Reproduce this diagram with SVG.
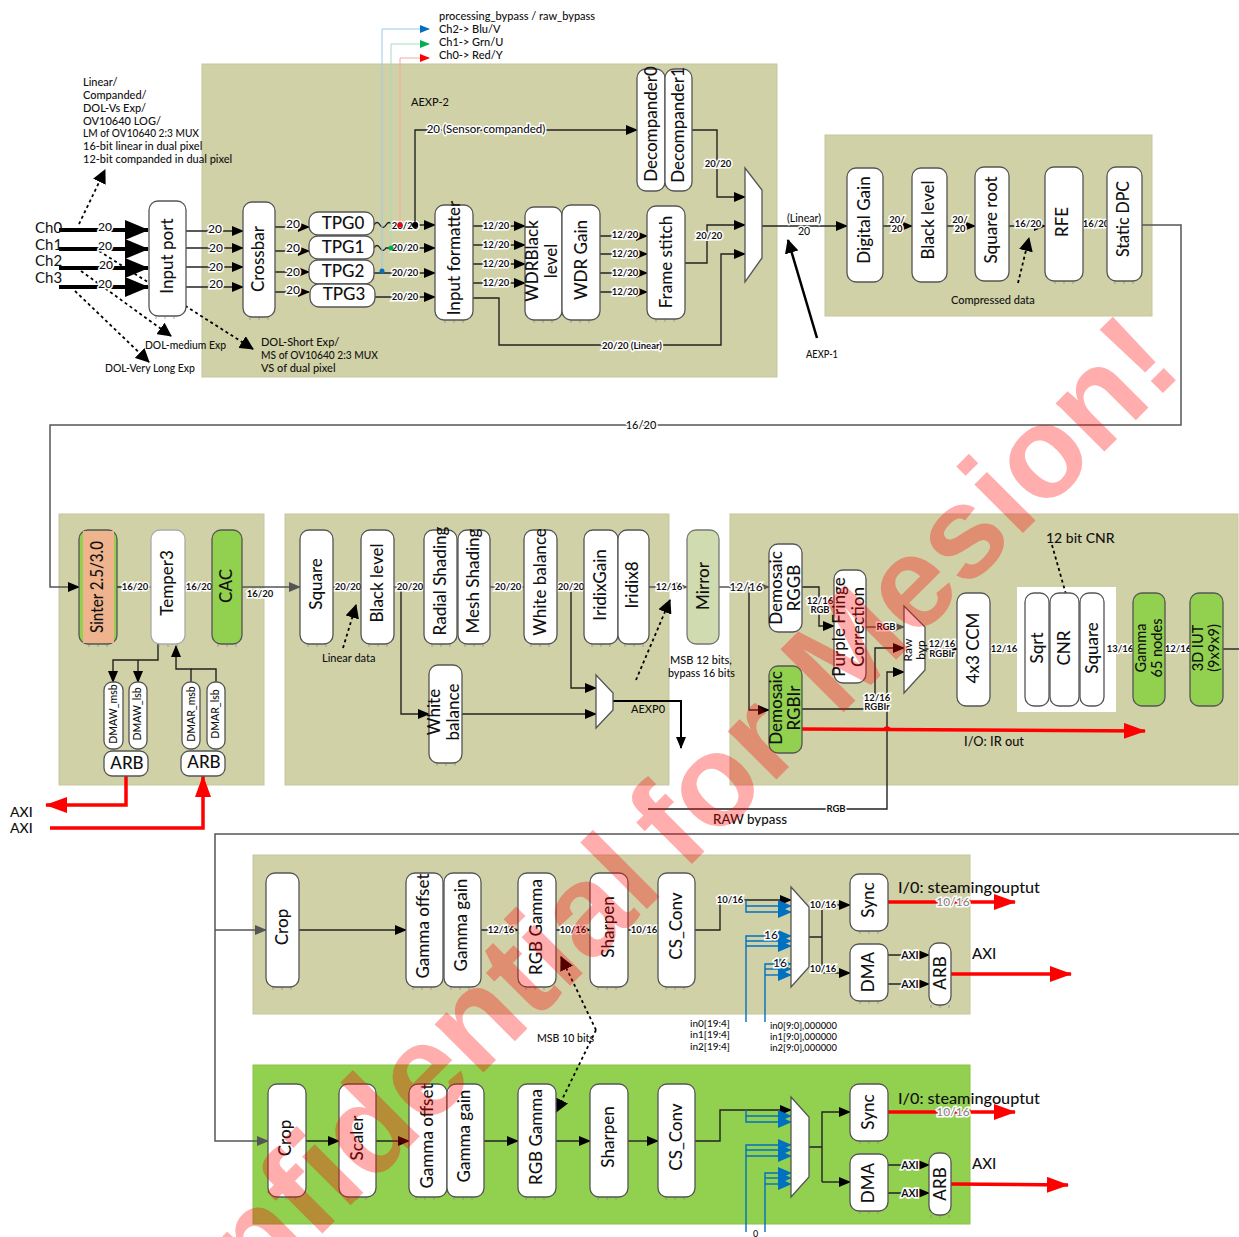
<svg xmlns="http://www.w3.org/2000/svg" width="1239" height="1237" viewBox="0 0 1239 1237">
<style>
text{font-family:Lato,"Noto Sans","Liberation Sans",sans-serif;fill:#111}
.p{fill:#d1d1a7;stroke:#c6c6a0;stroke-width:1}
.pg{fill:#92d050;stroke:#8ac248;stroke-width:1}
.n{fill:#fff;stroke:#555;stroke-width:1.3}
.g{fill:#92d050;stroke:#555;stroke-width:1.3}
.v{font-size:17px;font-weight:500;text-anchor:middle}
.s{font-size:11px;font-weight:500}
.l{font-size:9.5px;font-weight:700;text-anchor:middle;paint-order:stroke;stroke:#fff;stroke-width:3px}
.m{font-size:12px;font-weight:500;text-anchor:middle;paint-order:stroke;stroke:#fff;stroke-width:3px}
.w{fill:none;stroke:#222;stroke-width:1.4}
.w2{fill:none;stroke:#555;stroke-width:1.5}
.t{fill:none;stroke:#000;stroke-width:4}
.d{fill:none;stroke:#000;stroke-width:1.8;stroke-dasharray:3 3}
.r{fill:none;stroke:#f00;stroke-width:3.5}
.b{fill:none;stroke:#0070c0;stroke-width:1.4}
.tk{fill:none;stroke:#888;stroke-width:.7}
.wm{font-family:"Liberation Sans",Arial,sans-serif;font-weight:700;font-size:130px;word-spacing:-12px;fill:#f00;fill-opacity:.32}
</style>
<defs>
<marker id="a" markerUnits="userSpaceOnUse" markerWidth="12" markerHeight="10" refX="11" refY="5" orient="auto"><path d="M0 0L12 5L0 10z" fill="#000"/></marker>
<marker id="ag" markerUnits="userSpaceOnUse" markerWidth="12" markerHeight="10" refX="11" refY="5" orient="auto"><path d="M0 0L12 5L0 10z" fill="#555"/></marker>
<marker id="A" markerUnits="userSpaceOnUse" markerWidth="24" markerHeight="20" refX="23" refY="10" orient="auto"><path d="M0 0L24 10L0 20z" fill="#000"/></marker>
<marker id="ad" markerUnits="userSpaceOnUse" markerWidth="14" markerHeight="14" refX="13" refY="7" orient="auto"><path d="M0 0L14 7L0 14z" fill="#000"/></marker>
<marker id="B" markerUnits="userSpaceOnUse" markerWidth="14" markerHeight="12" refX="13" refY="6" orient="auto"><path d="M0 0L14 6L0 12z" fill="#0070c0"/></marker>
<marker id="R" markerUnits="userSpaceOnUse" markerWidth="22" markerHeight="16" refX="21" refY="8" orient="auto"><path d="M0 0L22 8L0 16z" fill="#f00"/></marker>
<marker id="r1" markerUnits="userSpaceOnUse" markerWidth="10" markerHeight="8" refX="9" refY="4" orient="auto"><path d="M0 0L10 4L0 8z" fill="#f00"/></marker>
<marker id="g1" markerUnits="userSpaceOnUse" markerWidth="10" markerHeight="8" refX="9" refY="4" orient="auto"><path d="M0 0L10 4L0 8z" fill="#00b050"/></marker>
<marker id="b1" markerUnits="userSpaceOnUse" markerWidth="10" markerHeight="8" refX="9" refY="4" orient="auto"><path d="M0 0L10 4L0 8z" fill="#0070c0"/></marker>
<path id="tk" class="tk" d="M0 0v3M9 0v3M18 0v3"/>
</defs>
<rect width="1239" height="1237" fill="#fff"/>
<g id="panels">
<rect class="p" x="202" y="64" width="575" height="313"/>
<rect class="p" x="825" y="135" width="327" height="181"/>
<rect class="p" x="59" y="514" width="205" height="271"/>
<rect class="p" x="285" y="514" width="384" height="271"/>
<rect class="p" x="730" y="514" width="508" height="271"/>
<rect class="p" x="253" y="855" width="717" height="159"/>
<rect class="pg" x="253" y="1065" width="717" height="159"/>
<rect x="1017" y="587" width="99" height="125" fill="#fff"/>
</g>
<g id="connectors">
<path class="t" d="M59 230H148" marker-end="url(#A)"/>
<path class="t" d="M59 249H148" marker-end="url(#A)"/>
<path class="t" d="M59 268H148" marker-end="url(#A)"/>
<path class="t" d="M59 287H148" marker-end="url(#A)"/>
<path class="w" d="M186 231H243" marker-end="url(#a)"/>
<path class="w" d="M186 248H243" marker-end="url(#a)"/>
<path class="w" d="M186 267H243" marker-end="url(#a)"/>
<path class="w" d="M186 287H243" marker-end="url(#a)"/>
<path class="w" d="M275 227H309" marker-end="url(#a)"/>
<path class="w" d="M275 251H309" marker-end="url(#a)"/>
<path class="w" d="M275 272H309" marker-end="url(#a)"/>
<path class="w" d="M275 292H309" marker-end="url(#a)"/>
<path class="w" d="M374 225q3-5 6 0t6 0t6 0H435" marker-end="url(#a)"/>
<path class="w" d="M374 248q3-5 6 0t6 0H435" marker-end="url(#a)"/>
<path class="w" d="M374 273H435" marker-end="url(#a)"/>
<path class="w" d="M375 297H435" marker-end="url(#a)"/>
<path class="w" d="M473 226H525" marker-end="url(#a)"/>
<path class="w" d="M473 245H525" marker-end="url(#a)"/>
<path class="w" d="M473 264H525" marker-end="url(#a)"/>
<path class="w" d="M473 283H525" marker-end="url(#a)"/>
<path class="w" d="M600 236H647" marker-end="url(#a)"/>
<path class="w" d="M600 254H647" marker-end="url(#a)"/>
<path class="w" d="M600 273H647" marker-end="url(#a)"/>
<path class="w" d="M600 292H647" marker-end="url(#a)"/>
<path class="w" d="M473 298H499V345H721V254H745" marker-end="url(#a)"/>
<path class="w" d="M685 263H707V225H745" marker-end="url(#a)"/>
<path class="w" d="M692 130H717V197H745" marker-end="url(#a)"/>
<path class="w" d="M762 226H847" marker-end="url(#a)"/>
<path class="w" d="M883 226H912" marker-end="url(#a)"/>
<path class="w" d="M947 226H975" marker-end="url(#a)"/>
<path class="w" d="M1009 226H1045" marker-end="url(#a)"/>
<path class="w" d="M1083 226H1107"/>
<path class="w2" d="M1142 225H1181V425H50V587H79" marker-end="url(#a)"/>
<path class="w" d="M117 587H151" marker-end="url(#ag)"/>
<path class="w" d="M185 587H212" marker-end="url(#ag)"/>
<path class="w2" d="M242 587H300" marker-end="url(#ag)"/>
<path class="w2" d="M333 587H361" marker-end="url(#ag)"/>
<path class="w2" d="M394 587H424" marker-end="url(#ag)"/>
<path class="w2" d="M490 587H524" marker-end="url(#ag)"/>
<path class="w2" d="M557 587H584" marker-end="url(#ag)"/>
<path class="w2" d="M649 587H687" marker-end="url(#ag)"/>
<path class="w2" d="M719 587H769" marker-end="url(#ag)"/>
<path class="w" d="M158 644V660H113V682" marker-end="url(#a)"/>
<path class="w" d="M138 660V682" marker-end="url(#a)"/>
<path class="w" d="M191 682V669H176V646" marker-end="url(#a)"/>
<path class="w" d="M216 682V669H191"/>
<path class="r" d="M126 776V805H46" marker-end="url(#R)"/>
<path class="r" d="M50 828H203V776" marker-end="url(#R)"/>
<path class="w" d="M401 587V714H429" marker-end="url(#a)"/>
<path class="w" d="M462 714H596" marker-end="url(#a)"/>
<path class="w" d="M571 587V688H596" marker-end="url(#a)"/>
<path d="M613 701H681V748" fill="none" stroke="#000" stroke-width="2" marker-end="url(#a)"/>
<path class="w" d="M749 587V710H769" marker-end="url(#a)"/>
<path class="w" d="M802 587H819V626H834" marker-end="url(#a)"/>
<path class="w2" d="M866 627H904" marker-end="url(#ag)"/>
<path class="w" d="M802 709H875V648H904" marker-end="url(#a)"/>
<path class="w" d="M648 809H887V672H904" marker-end="url(#a)"/>
<path class="w" d="M925 649H957" marker-end="url(#a)"/>
<path class="w" d="M990 649H1017"/>
<path class="w" d="M1116 649H1133"/>
<path class="w" d="M1165 649H1190"/>
<path class="w" d="M1223 649H1239"/>
<path class="r" d="M802 729L1145 731" marker-end="url(#R)"/>
<path d="M883 729q4-5 8 0" fill="#f00" stroke="#f00"/>
<path class="d" d="M79 224L105 170" marker-end="url(#ad)"/>
<path class="d" d="M99 251L253 349" marker-end="url(#ad)"/>
<path class="d" d="M81 271L171 336" marker-end="url(#ad)"/>
<path class="d" d="M75 291L149 362" marker-end="url(#ad)"/>
<path d="M817 338L788 240" fill="none" stroke="#000" stroke-width="2.5" marker-end="url(#ad)"/>
<path class="d" d="M1018 283L1029 238" marker-end="url(#ad)"/>
<path class="d" d="M343 648L356 605" marker-end="url(#ad)"/>
<path class="d" d="M636 680L670 600" marker-end="url(#ad)"/>
<path class="d" d="M1052 545L1071 612" marker-end="url(#ad)"/>
<path class="d" d="M596 1030L561 957" marker-end="url(#ad)"/>
<path class="d" d="M596 1030L556 1112" marker-end="url(#ad)"/>
<path class="w2" d="M1239 834H215V1141H268" marker-end="url(#ag)"/>
<path class="w2" d="M215 930H266" marker-end="url(#ag)"/>
<path class="w" d="M299 930H406" marker-end="url(#a)"/>
<path class="w" d="M481 930H518" marker-end="url(#a)"/>
<path class="w" d="M556 930H590" marker-end="url(#a)"/>
<path class="w" d="M628 930H658" marker-end="url(#a)"/>
<path class="w" d="M695 930H720V900H791" marker-end="url(#a)"/>
<path class="b" d="M746 900V912H791" marker-end="url(#B)"/>
<path class="b" d="M746 906H791" marker-end="url(#B)"/>
<path class="b" d="M746 1022V936H791" marker-end="url(#B)"/>
<path class="b" d="M746 941H791" marker-end="url(#B)"/>
<path class="b" d="M746 946H791" marker-end="url(#B)"/>
<path class="b" d="M765 1022V964H791" marker-end="url(#B)"/>
<path class="b" d="M765 969H791" marker-end="url(#B)"/>
<path class="b" d="M765 975H791" marker-end="url(#B)"/>
<path class="w" d="M809 937H822M822 973V905H850" marker-end="url(#a)"/>
<path class="w" d="M822 973H850" marker-end="url(#a)"/>
<path class="r" d="M886 902H1015" marker-end="url(#R)"/>
<path class="w" d="M888 955H929" marker-end="url(#a)"/>
<path class="w" d="M888 984H929" marker-end="url(#a)"/>
<path class="r" d="M951 974H1071" marker-end="url(#R)"/>
<path class="w" d="M306 1141H339" marker-end="url(#a)"/>
<path class="w" d="M376 1141H409" marker-end="url(#a)"/>
<path class="w" d="M484 1141H518" marker-end="url(#a)"/>
<path class="w" d="M556 1141H590" marker-end="url(#a)"/>
<path class="w" d="M628 1141H658" marker-end="url(#a)"/>
<path class="w" d="M695 1141H720V1110H791" marker-end="url(#a)"/>
<path class="b" d="M746 1110V1122H791" marker-end="url(#B)"/>
<path class="b" d="M746 1116H791" marker-end="url(#B)"/>
<path class="b" d="M746 1232V1145H791" marker-end="url(#B)"/>
<path class="b" d="M746 1150H791" marker-end="url(#B)"/>
<path class="b" d="M746 1156H791" marker-end="url(#B)"/>
<path class="b" d="M765 1232V1173H791" marker-end="url(#B)"/>
<path class="b" d="M765 1178H791" marker-end="url(#B)"/>
<path class="b" d="M765 1184H791" marker-end="url(#B)"/>
<path class="w" d="M809 1147H822M822 1182V1112H850" marker-end="url(#a)"/>
<path class="w" d="M822 1182H850" marker-end="url(#a)"/>
<path class="r" d="M886 1112H1015" marker-end="url(#R)"/>
<path class="w" d="M888 1165H929" marker-end="url(#a)"/>
<path class="w" d="M888 1193H929" marker-end="url(#a)"/>
<path class="r" d="M951 1184L1068 1185" marker-end="url(#R)"/>
</g>
<g id="connector-labels">
<text class="m" x="105" y="231">20</text><text class="m" x="105" y="250">20</text><text class="m" x="106" y="269">20</text><text class="m" x="105" y="288">20</text>
<text class="m" x="215" y="233">20</text><text class="m" x="216" y="252">20</text><text class="m" x="216" y="271">20</text><text class="m" x="216" y="288">20</text>
<text class="m" x="293" y="228">20</text><text class="m" x="293" y="252">20</text><text class="m" x="293" y="276">20</text><text class="m" x="293" y="294">20</text>
<text class="l" x="405" y="229">20/20</text><text class="l" x="405" y="251">20/20</text><text class="l" x="405" y="276">20/20</text><text class="l" x="405" y="300">20/20</text>
<text class="l" x="496" y="229">12/20</text><text class="l" x="496" y="248">12/20</text><text class="l" x="496" y="267">12/20</text><text class="l" x="496" y="286">12/20</text>
<text class="l" x="625" y="238">12/20</text><text class="l" x="625" y="257">12/20</text><text class="l" x="625" y="276">12/20</text><text class="l" x="625" y="295">12/20</text>
<text class="l" x="632" y="349">20/20 (Linear)</text>
<text class="l" x="718" y="167">20/20</text><text class="l" x="709" y="239">20/20</text>
<text class="m" x="804" y="222" style="font-size:10.5px">(Linear)</text><text class="m" x="804" y="235" style="font-size:10.5px">20</text>
<text class="l" x="897" y="223">20/</text><text class="l" x="897" y="232">20</text>
<text class="l" x="960" y="223">20/</text><text class="l" x="960" y="232">20</text>
<text class="l" x="1028" y="227">16/20</text><text class="l" x="1096" y="227">16/20</text>
<text class="m" x="641" y="429" style="font-size:11px">16/20</text>
<text class="l" x="135" y="590">16/20</text><text class="l" x="199" y="590">16/20</text><text class="l" x="260" y="597">16/20</text>
<text class="l" x="348" y="590">20/20</text><text class="l" x="410" y="590">20/20</text><text class="l" x="508" y="590">20/20</text><text class="l" x="571" y="590">20/20</text><text class="l" x="669" y="590">12/16</text>
<text class="m" x="746" y="591">12/16</text>
<text class="l" x="820" y="604">12/16</text><text class="l" x="820" y="613">RGB</text>
<text class="l" x="886" y="630">RGB</text>
<text class="l" x="877" y="701">12/16</text><text class="l" x="877" y="710">RGBIr</text>
<text class="l" x="942" y="647">12/16</text><text class="l" x="942" y="657">RGBIr</text>
<text class="l" x="1004" y="652">12/16</text><text class="l" x="1120" y="652">13/16</text><text class="l" x="1178" y="652">12/16</text>
<text class="l" x="836" y="812">RGB</text>
<text class="l" x="501" y="933">12/16</text><text class="l" x="573" y="933">10/16</text><text class="l" x="644" y="933">10/16</text>
<text class="l" x="730" y="903">10/16</text><text class="l" x="823" y="908">10/16</text><text class="l" x="823" y="972">10/16</text>
<text class="m" x="771" y="939">16</text><text class="m" x="780" y="967">16</text>
<text class="m" x="953" y="906" style="fill:#888">10/16</text><text class="m" x="953" y="1116" style="fill:#888">10/16</text>
<text class="l" x="910" y="959" style="font-size:10.5px">AXI</text><text class="l" x="910" y="988" style="font-size:10.5px">AXI</text>
<text class="l" x="910" y="1169" style="font-size:10.5px">AXI</text><text class="l" x="910" y="1197" style="font-size:10.5px">AXI</text>
</g>
<g id="bypass-taps">
<path class="w" d="M415 225V130H637" marker-end="url(#a)"/>
<text class="m" x="486" y="133" style="font-size:11.5px">20 (Sensor companded)</text>
<path d="M400 225V58H429" fill="none" stroke="#f4a9a0" stroke-width="1" marker-end="url(#r1)"/>
<path d="M391 248V44H429" fill="none" stroke="#a5dcb8" stroke-width="1" marker-end="url(#g1)"/>
<path d="M382 272V29H429" fill="none" stroke="#9cc8e8" stroke-width="1" marker-end="url(#b1)"/>
<circle cx="400" cy="225" r="2.5" fill="#f00"/>
<circle cx="391" cy="248" r="2.5" fill="#00b050"/>
<circle cx="382" cy="271" r="2.5" fill="#0070c0"/>
<circle cx="415" cy="225" r="3" fill="#000"/>
</g>
<g id="notes">
<text class="s" x="439" y="20">processing_bypass / raw_bypass</text>
<text class="s" x="439" y="33">Ch2-&gt; Blu/V</text>
<text class="s" x="439" y="46">Ch1-&gt; Grn/U</text>
<text class="s" x="439" y="59">Ch0-&gt; Red/Y</text>
<text class="s" x="411" y="106">AEXP-2</text>
<text class="s" x="83" y="86">Linear/</text>
<text class="s" x="83" y="99">Companded/</text>
<text class="s" x="83" y="112">DOL-Vs Exp/</text>
<text class="s" x="83" y="125">OV10640 LOG/</text>
<text class="s" x="83" y="137" textLength="116" lengthAdjust="spacingAndGlyphs">LM of OV10640 2:3 MUX</text>
<text class="s" x="83" y="150">16-bit linear in dual pixel</text>
<text class="s" x="83" y="163">12-bit companded in dual pixel</text>
<text x="35" y="233" style="font-size:15px">Ch0</text><text x="35" y="250" style="font-size:15px">Ch1</text><text x="35" y="266" style="font-size:15px">Ch2</text><text x="35" y="283" style="font-size:15px">Ch3</text>
<text class="s" x="145" y="349" textLength="81" lengthAdjust="spacingAndGlyphs">DOL-medium Exp</text>
<text class="s" x="105" y="372" textLength="90" lengthAdjust="spacingAndGlyphs">DOL-Very Long Exp</text>
<text class="s" x="261" y="346">DOL-Short Exp/</text>
<text class="s" x="261" y="359" textLength="117" lengthAdjust="spacingAndGlyphs">MS of OV10640 2:3 MUX</text>
<text class="s" x="261" y="372">VS of dual pixel</text>
<text class="s" x="806" y="358" textLength="32" lengthAdjust="spacingAndGlyphs">AEXP-1</text>
<text class="s" x="951" y="304">Compressed data</text>
<text class="s" x="322" y="662">Linear data</text>
<text class="s" x="631" y="713">AEXP0</text>
<text class="s" x="670" y="664">MSB 12 bits,</text>
<text class="s" x="668" y="677" textLength="67" lengthAdjust="spacingAndGlyphs">bypass 16 bits</text>
<text x="1046" y="543" style="font-size:14px;font-weight:500">12 bit CNR</text>
<text x="964" y="746" style="font-size:14px;font-weight:500" textLength="60" lengthAdjust="spacingAndGlyphs">I/O: IR out</text>
<text x="713" y="824" style="font-size:14px;font-weight:500" textLength="74" lengthAdjust="spacingAndGlyphs">RAW bypass</text>
<text x="10" y="817" style="font-size:14px;font-weight:500">AXI</text><text x="10" y="833" style="font-size:14px;font-weight:500">AXI</text>
<text class="s" x="537" y="1042" textLength="57" lengthAdjust="spacingAndGlyphs">MSB 10 bits</text>
<text class="s" x="690" y="1027" style="font-size:10px">in0[19:4]</text><text class="s" x="690" y="1038" style="font-size:10px">in1[19:4]</text><text class="s" x="690" y="1050" style="font-size:10px">in2[19:4]</text>
<text class="s" x="770" y="1029" style="font-size:10px" textLength="67" lengthAdjust="spacingAndGlyphs">in0[9:0],000000</text><text class="s" x="770" y="1040" style="font-size:10px" textLength="67" lengthAdjust="spacingAndGlyphs">in1[9:0],000000</text><text class="s" x="770" y="1051" style="font-size:10px" textLength="67" lengthAdjust="spacingAndGlyphs">in2[9:0],000000</text>
<text x="898" y="893" style="font-size:16px;font-weight:500" textLength="142" lengthAdjust="spacingAndGlyphs">I/0: steamingouptut</text>
<text x="898" y="1104" style="font-size:16px;font-weight:500" textLength="142" lengthAdjust="spacingAndGlyphs">I/0: steamingouptut</text>
<text x="972" y="959" style="font-size:15px;font-weight:500">AXI</text><text x="972" y="1169" style="font-size:15px;font-weight:500">AXI</text>
<text class="s" x="753" y="1237" style="font-size:9px">0</text>
</g>
<g id="muxes">
<polygon class="n" points="745,168 762,190 762,258 745,282"/>
<polygon class="n" points="596,675 613,693 613,710 596,728"/>
<polygon class="n" points="904,606 925,627 925,670 904,693"/>
<polygon class="n" points="791,887 809,907 809,967 791,987"/>
<polygon class="n" points="791,1097 809,1117 809,1177 791,1197"/>
<text class="v" style="font-size:12px" transform="translate(919,650) rotate(-90)" x="0" y="-7">Raw</text>
<text class="v" style="font-size:12px" transform="translate(919,650) rotate(-90)" x="0" y="6">byp</text>
</g>
<g id="ticks">
<use href="#tk" x="156" y="316"/><use href="#tk" x="250" y="317"/><use href="#tk" x="445" y="320"/><use href="#tk" x="534" y="320"/><use href="#tk" x="571" y="320"/><use href="#tk" x="656" y="319"/>
<use href="#tk" x="1055" y="281"/><use href="#tk" x="1115" y="281"/>
<use href="#tk" x="89" y="644"/><use href="#tk" x="159" y="644"/><use href="#tk" x="218" y="644"/><use href="#tk" x="308" y="644"/><use href="#tk" x="369" y="644"/><use href="#tk" x="432" y="644"/><use href="#tk" x="465" y="644"/><use href="#tk" x="531" y="644"/><use href="#tk" x="592" y="644"/><use href="#tk" x="625" y="644"/><use href="#tk" x="437" y="763"/>
<use href="#tk" x="273" y="987"/><use href="#tk" x="413" y="987"/><use href="#tk" x="451" y="987"/><use href="#tk" x="526" y="987"/><use href="#tk" x="598" y="987"/><use href="#tk" x="666" y="987"/><use href="#tk" x="860" y="931"/><use href="#tk" x="860" y="1001"/><use href="#tk" x="931" y="1005"/>
<use href="#tk" x="277" y="1197"/><use href="#tk" x="348" y="1197"/><use href="#tk" x="416" y="1197"/><use href="#tk" x="454" y="1197"/><use href="#tk" x="526" y="1197"/><use href="#tk" x="598" y="1197"/><use href="#tk" x="666" y="1197"/><use href="#tk" x="860" y="1141"/><use href="#tk" x="860" y="1211"/><use href="#tk" x="931" y="1215"/>
</g>
<g id="input-port"><rect class="n" x="149" y="201" width="37" height="115" rx="9"/><text class="v" transform="translate(173,256) rotate(-90)">Input port</text></g>
<g id="crossbar"><rect class="n" x="243" y="202" width="32" height="115" rx="9"/><text class="v" transform="translate(264,259) rotate(-90)">Crossbar</text></g>
<g id="tpg0"><rect class="n" x="309" y="212" width="65" height="23" rx="9"/><text class="v" x="343" y="229">TPG0</text></g>
<g id="tpg1"><rect class="n" x="309" y="236" width="65" height="23" rx="9"/><text class="v" x="343" y="253">TPG1</text></g>
<g id="tpg2"><rect class="n" x="309" y="260" width="65" height="24" rx="9"/><text class="v" x="343" y="277">TPG2</text></g>
<g id="tpg3"><rect class="n" x="310" y="284" width="65" height="23" rx="9"/><text class="v" x="344" y="300">TPG3</text></g>
<g id="input-formatter"><rect class="n" x="435" y="205" width="38" height="115" rx="9"/><text class="v" transform="translate(460,258) rotate(-90)">Input formatter</text></g>
<g id="wdr-black"><rect class="n" x="525" y="207" width="37" height="113" rx="9"/><text class="v" transform="translate(538,261) rotate(-90)">WDRBlack</text><text class="v" transform="translate(557,261) rotate(-90)">level</text></g>
<g id="wdr-gain"><rect class="n" x="562" y="205" width="38" height="115" rx="9"/><text class="v" transform="translate(587,260) rotate(-90)">WDR Gain</text></g>
<g id="frame-stitch"><rect class="n" x="647" y="206" width="38" height="113" rx="9"/><text class="v" transform="translate(672,262) rotate(-90)">Frame stitch</text></g>
<g id="decompander0"><rect class="n" x="637" y="69" width="28" height="122" rx="9"/><text class="v" transform="translate(657,124) rotate(-90)">Decompander0</text></g>
<g id="decompander1"><rect class="n" x="665" y="69" width="27" height="122" rx="9"/><text class="v" transform="translate(684,125) rotate(-90)">Decompander1</text></g>
<g id="digital-gain"><rect class="n" x="847" y="168" width="36" height="114" rx="9"/><text class="v" transform="translate(870,220) rotate(-90)">Digital Gain</text></g>
<g id="black-level"><rect class="n" x="912" y="168" width="35" height="114" rx="9"/><text class="v" transform="translate(934,220) rotate(-90)">Black level</text></g>
<g id="square-root"><rect class="n" x="975" y="167" width="34" height="114" rx="9"/><text class="v" transform="translate(997,220) rotate(-90)">Square root</text></g>
<g id="rfe"><rect class="n" x="1045" y="167" width="38" height="114" rx="9"/><text class="v" transform="translate(1068,222) rotate(-90)">RFE</text></g>
<g id="static-dpc"><rect class="n" x="1107" y="167" width="35" height="114" rx="9"/><text class="v" transform="translate(1129,219) rotate(-90)" textLength="76" lengthAdjust="spacingAndGlyphs">Static DPC</text></g>
<g id="sinter"><rect class="g" x="79" y="530" width="38" height="114" rx="9"/><rect x="83" y="531" width="31" height="112" fill="#efb48d"/><text class="v" transform="translate(103,587) rotate(-90)" textLength="92" lengthAdjust="spacingAndGlyphs">Sinter 2.5/3.0</text></g>
<g id="temper3"><rect class="n" x="151" y="530" width="34" height="114" rx="9" style="stroke:#aaa"/><text class="v" transform="translate(173,583) rotate(-90)">Temper3</text></g>
<g id="cac"><rect class="g" x="212" y="530" width="30" height="114" rx="9"/><text class="v" transform="translate(232,586) rotate(-90)">CAC</text></g>
<g id="dmaw-msb"><rect class="n" x="104" y="682" width="19" height="67" rx="8"/><text class="v" style="font-size:10.5px" transform="translate(117,714) rotate(-90)">DMAW_msb</text></g>
<g id="dmaw-lsb"><rect class="n" x="129" y="682" width="18" height="67" rx="8"/><text class="v" style="font-size:10.5px" transform="translate(141,714) rotate(-90)">DMAW_lsb</text></g>
<g id="dmar-msb"><rect class="n" x="182" y="682" width="18" height="67" rx="8"/><text class="v" style="font-size:10.5px" transform="translate(195,714) rotate(-90)">DMAR_msb</text></g>
<g id="dmar-lsb"><rect class="n" x="207" y="682" width="18" height="67" rx="8"/><text class="v" style="font-size:10.5px" transform="translate(219,714) rotate(-90)">DMAR_lsb</text></g>
<g id="arb1"><rect class="n" x="104" y="751" width="44" height="25" rx="8"/><text class="v" x="127" y="769">ARB</text></g>
<g id="arb2"><rect class="n" x="181" y="751" width="44" height="25" rx="8"/><text class="v" x="204" y="768">ARB</text></g>
<g id="square"><rect class="n" x="300" y="530" width="33" height="114" rx="9"/><text class="v" transform="translate(322,584) rotate(-90)">Square</text></g>
<g id="black-level2"><rect class="n" x="361" y="530" width="33" height="114" rx="9"/><text class="v" transform="translate(383,583) rotate(-90)">Black level</text></g>
<g id="radial-shading"><rect class="n" x="424" y="530" width="33" height="114" rx="9"/><text class="v" transform="translate(446,581) rotate(-90)">Radial Shading</text></g>
<g id="mesh-shading"><rect class="n" x="458" y="530" width="32" height="114" rx="9"/><text class="v" transform="translate(479,581) rotate(-90)">Mesh Shading</text></g>
<g id="white-balance"><rect class="n" x="524" y="530" width="33" height="114" rx="9"/><text class="v" transform="translate(546,582) rotate(-90)">White balance</text></g>
<g id="iridix-gain"><rect class="n" x="584" y="530" width="34" height="114" rx="9"/><text class="v" transform="translate(606,585) rotate(-90)">IridixGain</text></g>
<g id="iridix8"><rect class="n" x="618" y="530" width="31" height="114" rx="9"/><text class="v" transform="translate(638,585) rotate(-90)">Iridix8</text></g>
<g id="white-balance2"><rect class="n" x="429" y="665" width="33" height="98" rx="9"/><text class="v" transform="translate(440,712) rotate(-90)">White</text><text class="v" transform="translate(459,712) rotate(-90)">balance</text></g>
<g id="mirror"><rect x="687" y="530" width="32" height="114" rx="9" fill="#d0dcb0" stroke="#777" stroke-width="1.3"/><text class="v" transform="translate(709,586) rotate(-90)">Mirror</text></g>
<g id="demosaic-rggb"><rect class="n" x="769" y="544" width="33" height="88" rx="9"/><text class="v" transform="translate(782,588) rotate(-90)">Demosaic</text><text class="v" transform="translate(800,588) rotate(-90)">RGGB</text></g>
<g id="purple-fringe"><rect class="n" x="834" y="570" width="32" height="113" rx="9"/><text class="v" transform="translate(845,627) rotate(-90)">Purple Fringe</text><text class="v" transform="translate(864,627) rotate(-90)">Correction</text></g>
<g id="demosaic-rgbir"><rect class="g" x="769" y="666" width="33" height="87" rx="9"/><text class="v" transform="translate(782,708) rotate(-90)">Demosaic</text><text class="v" transform="translate(800,708) rotate(-90)">RGBIr</text></g>
<g id="ccm"><rect class="n" x="957" y="593" width="33" height="113" rx="9"/><text class="v" transform="translate(979,648) rotate(-90)">4x3 CCM</text></g>
<g id="sqrt"><rect class="n" x="1025" y="593" width="24" height="113" rx="9"/><text class="v" transform="translate(1043,648) rotate(-90)">Sqrt</text></g>
<g id="cnr"><rect class="n" x="1050" y="593" width="29" height="113" rx="9"/><text class="v" transform="translate(1070,648) rotate(-90)">CNR</text></g>
<g id="square2"><rect class="n" x="1080" y="593" width="24" height="113" rx="9"/><text class="v" transform="translate(1098,648) rotate(-90)">Square</text></g>
<g id="gamma65"><rect class="g" x="1133" y="593" width="32" height="113" rx="9"/><text class="v" style="font-size:14.5px" transform="translate(1146,648) rotate(-90)">Gamma</text><text class="v" style="font-size:14.5px" transform="translate(1162,648) rotate(-90)">65 nodes</text></g>
<g id="lut"><rect class="g" x="1190" y="593" width="33" height="113" rx="9"/><text class="v" style="font-size:14.5px" transform="translate(1203,648) rotate(-90)">3D IUT</text><text class="v" style="font-size:14.5px" transform="translate(1219,648) rotate(-90)">(9x9x9)</text></g>
<g id="crop1"><rect class="n" x="266" y="873" width="33" height="114" rx="9"/><text class="v" transform="translate(288,927) rotate(-90)">Crop</text></g>
<g id="gamma-offset1"><rect class="n" x="406" y="873" width="37" height="114" rx="9"/><text class="v" transform="translate(429,926) rotate(-90)">Gamma offset</text></g>
<g id="gamma-gain1"><rect class="n" x="444" y="873" width="37" height="114" rx="9"/><text class="v" transform="translate(467,925) rotate(-90)">Gamma gain</text></g>
<g id="rgb-gamma1"><rect class="n" x="518" y="873" width="38" height="114" rx="9"/><text class="v" transform="translate(542,927) rotate(-90)">RGB Gamma</text></g>
<g id="sharpen1"><rect class="n" x="590" y="873" width="38" height="114" rx="9"/><text class="v" transform="translate(614,927) rotate(-90)">Sharpen</text></g>
<g id="csconv1"><rect class="n" x="658" y="873" width="37" height="114" rx="9"/><text class="v" transform="translate(682,926) rotate(-90)">CS_Conv</text></g>
<g id="sync1"><rect class="n" x="850" y="874" width="38" height="57" rx="9"/><text class="v" transform="translate(874,900) rotate(-90)">Sync</text></g>
<g id="dma1"><rect class="n" x="850" y="944" width="38" height="57" rx="9"/><text class="v" transform="translate(874,972) rotate(-90)">DMA</text></g>
<g id="arb3"><rect class="n" x="929" y="943" width="22" height="62" rx="9"/><text class="v" transform="translate(946,973) rotate(-90)">ARB</text></g>
<g id="crop2"><rect class="n" x="268" y="1084" width="38" height="113" rx="9"/><text class="v" transform="translate(291,1138) rotate(-90)">Crop</text></g>
<g id="scaler"><rect class="n" x="339" y="1084" width="37" height="113" rx="9"/><text class="v" transform="translate(363,1138) rotate(-90)">Scaler</text></g>
<g id="gamma-offset2"><rect class="n" x="409" y="1084" width="38" height="113" rx="9"/><text class="v" transform="translate(433,1136) rotate(-90)">Gamma offset</text></g>
<g id="gamma-gain2"><rect class="n" x="447" y="1084" width="37" height="113" rx="9"/><text class="v" transform="translate(470,1136) rotate(-90)">Gamma gain</text></g>
<g id="rgb-gamma2"><rect class="n" x="518" y="1084" width="38" height="113" rx="9"/><text class="v" transform="translate(542,1137) rotate(-90)">RGB Gamma</text></g>
<g id="sharpen2"><rect class="n" x="590" y="1084" width="38" height="113" rx="9"/><text class="v" transform="translate(614,1137) rotate(-90)">Sharpen</text></g>
<g id="csconv2"><rect class="n" x="658" y="1084" width="37" height="113" rx="9"/><text class="v" transform="translate(682,1137) rotate(-90)">CS_Conv</text></g>
<g id="sync2"><rect class="n" x="850" y="1084" width="38" height="57" rx="9"/><text class="v" transform="translate(874,1112) rotate(-90)">Sync</text></g>
<g id="dma2"><rect class="n" x="850" y="1154" width="38" height="57" rx="9"/><text class="v" transform="translate(874,1183) rotate(-90)">DMA</text></g>
<g id="arb4"><rect class="n" x="929" y="1153" width="22" height="62" rx="9"/><text class="v" transform="translate(946,1184) rotate(-90)">ARB</text></g>
<text class="wm" transform="translate(135,1421) rotate(-45)">Confidential for <tspan dx="21">Mesion!</tspan></text>
</svg>
